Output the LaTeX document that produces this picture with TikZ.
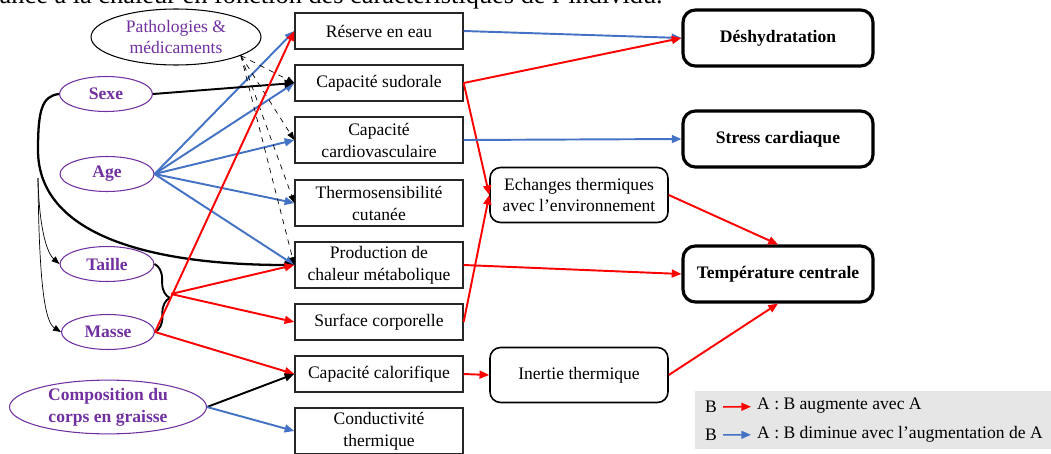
\documentclass[tikz,border=0pt]{standalone}
\usepackage{fontspec}
\setmainfont{Liberation Serif}
\usetikzlibrary{arrows.meta,shapes.geometric,decorations.pathreplacing}

\definecolor{indiv}{HTML}{7030A0}
\definecolor{bleu}{HTML}{4472C4}
\definecolor{rouge}{RGB}{255,0,0}
\definecolor{fond}{HTML}{E7E6E6}

\tikzset{
	pointe/.style={-{Triangle[length=5.5pt,width=4.5pt]}},
	hausse/.style={pointe, draw=rouge, line width=1.1pt},
	baisse/.style={pointe, draw=bleu, line width=1.1pt},
	lien/.style={pointe, draw=black, line width=1.1pt},
	fin/.style={-{Triangle[length=4.5pt,width=3.5pt]}, draw=black, line width=0.4pt},
	pointille/.style={-{Triangle[length=4.5pt,width=3.5pt]}, draw=black, line width=0.4pt, dashed}
}

\begin{document}
\begin{tikzpicture}[x=0.02cm, y=-0.02cm,
		every node/.style={font=\fontsize{10}{12.5}\selectfont},
		facteur/.style={ellipse, draw=indiv, line width=0.6pt, text=indiv, inner sep=0pt,
			font=\fontsize{10}{12.5}\selectfont\bfseries, align=center},
		boite/.style={draw=black!85, line width=0.8pt, minimum width=3.36cm, minimum height=0.72cm,
			inner sep=1pt, align=center},
		haute/.style={boite, minimum height=0.92cm},
		etape/.style={draw, rounded corners=6pt, line width=0.9pt, minimum width=3.56cm,
			minimum height=1.1cm, align=center},
		issue/.style={draw, rounded corners=7pt, line width=1.8pt, minimum width=3.8cm,
			minimum height=1.12cm, font=\fontsize{10}{12.5}\selectfont\bfseries}]

		\useasboundingbox (0,0) rectangle (1051,453);

		\node[anchor=base east, inner sep=0pt, font=\fontsize{15}{17}\selectfont] (titre) at (663,4)
			{tolérance à la chaleur en fonction des caractéristiques de l’individu.};

		\node[ellipse, draw, line width=0.6pt, text=indiv, align=center, inner sep=0pt,
			minimum width=3.4cm, minimum height=1.12cm] (patho) at (176,37) {Pathologies \&\\médicaments};
		\node[facteur, minimum width=1.86cm, minimum height=0.7cm] (sexe) at (106,94) {Sexe};
		\node[facteur, minimum width=1.88cm, minimum height=0.7cm] (age) at (107,174) {Age};
		\node[facteur, minimum width=1.88cm, minimum height=0.7cm] (taille) at (107,264) {Taille};
		\node[facteur, minimum width=1.86cm, minimum height=0.7cm] (masse) at (108,332) {Masse};
		\node[facteur, minimum width=3.94cm, minimum height=0.9cm] (compo) at (108,407) {Composition du\\corps en graisse};

		\node[boite] (reserve) at (379,31) {Réserve en eau};
		\node[boite] (sudo) at (379,83) {Capacité sudorale};
		\node[haute] (cardio) at (379,140) {Capacité\\cardiovasculaire};
		\node[haute] (thermo) at (379,203) {Thermosensibilité\\cutanée};
		\node[haute] (prod) at (379,265) {Production de\\chaleur métabolique};
		\node[boite] (surface) at (379,322) {Surface corporelle};
		\node[boite] (calo) at (379,374) {Capacité calorifique};
		\node[haute] (conduc) at (379,431) {Conductivité\\thermique};

		\node[etape] (echanges) at (579,195) {Echanges thermiques\\avec l’environnement};
		\node[etape] (inertie) at (579,375) {Inertie thermique};

		\node[issue] (deshy) at (778,38) {Déshydratation};
		\node[issue] (stress) at (778,139) {Stress cardiaque};
		\node[issue] (temp) at (778,274) {Température centrale};

		\foreach \cible in {reserve,sudo,cardio,thermo,prod}
			\draw[baisse] (age.east) -- (\cible.west);

		\coordinate (patho-sortie) at (patho.-16);
		\foreach \cible in {sudo,cardio,thermo,prod}
			\draw[pointille] (patho-sortie) -- (\cible.west);

		\draw[lien] (sexe.east) -- (sudo.west);
		\draw[lien, line width=1.3pt] (sexe.west) .. controls (42,96) and (38,110) .. (38,150)
			.. controls (38,235) and (150,265) .. (prod.west);
		\coordinate (fourche) at (38,178);
		\draw[fin] (fourche) .. controls (39,225) and (46,252) .. (taille.west);
		\draw[fin] (fourche) .. controls (39,285) and (45,322) .. (masse.west);

		\draw[decorate, decoration={brace, amplitude=0.3cm}, line width=1.1pt]
			(taille.east) -- (masse.east);
		\coordinate (accolade) at (171,294);
		\draw[hausse] (accolade) -- (prod.west);
		\draw[hausse] (accolade) -- (surface.west);

		\draw[hausse] (masse.east) -- (reserve.west);
		\draw[hausse] (masse.east) -- (calo.west);
		\draw[lien] (compo.east) -- (calo.west);
		\draw[baisse] (compo.east) -- (conduc.west);

		\draw[baisse] (reserve.east) -- (deshy.west);
		\draw[hausse] (sudo.east) -- (deshy.west);
		\draw[hausse] (sudo.east) -- (echanges.west);
		\draw[baisse] (cardio.east) -- (stress.west);
		\draw[hausse] (surface.east) -- (echanges.west);
		\draw[hausse] (prod.east) -- (temp.west);
		\draw[hausse] (calo.east) -- (inertie.west);
		\draw[hausse] (echanges.east) -- (temp.north);
		\draw[hausse] (inertie.east) -- (temp.south);

		\fill[fond] (695,391) rectangle (1051,449);
		\node (b-haut) at (711,407) {B};
		\node[anchor=west] (leg-haut) at (751,406) {A : B augmente avec A};
		\node (b-bas) at (711,435) {B};
		\node[anchor=west] (leg-bas) at (751,434) {A : B diminue avec l’augmentation de A};
		\draw[hausse, line width=0.9pt] (b-haut) -- (leg-haut);
		\draw[baisse, line width=0.9pt] (b-bas) -- (leg-bas);
	\end{tikzpicture}
\end{document}
